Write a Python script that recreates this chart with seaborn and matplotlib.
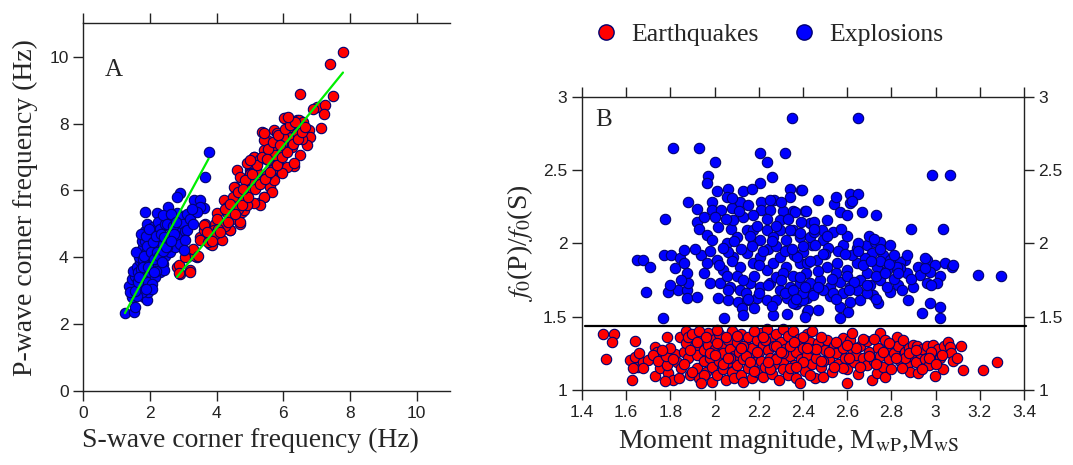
import numpy as np
import pandas as pd
import matplotlib
matplotlib.use("Agg")
import matplotlib.pyplot as plt
from matplotlib.lines import Line2D
from matplotlib.ticker import FuncFormatter
import seaborn as sns

# ---------------- Panel A data (corner frequencies, Hz) ----------------
exp_fs = [1.25, 1.51, 1.56, 1.46, 1.61, 1.81, 1.91, 1.36, 1.45, 1.55, 1.50, 1.65, 1.70, 1.75, 1.62, 1.70,
          1.75, 1.68, 1.80, 1.85, 1.90, 1.95, 2.00, 1.80, 1.75, 1.85, 1.90, 1.95, 2.05, 2.10, 2.00, 1.85,
          1.90, 1.85, 2.00, 2.05, 2.10, 2.15, 2.20, 2.25, 2.30, 2.15, 2.05, 2.10, 2.15, 2.20, 2.25, 2.30,
          2.35, 2.40, 2.45, 2.20, 2.25, 2.30, 2.35, 2.40, 2.45, 2.50, 2.55, 2.60, 2.55, 2.50, 2.45, 2.40,
          2.60, 2.65, 2.70, 2.75, 2.70, 2.80, 2.85, 2.90, 2.90, 2.81, 2.81, 2.95, 3.00, 3.05, 3.11, 3.10,
          3.20, 3.30, 3.31, 3.51, 3.61, 3.50, 3.40, 3.25, 3.66, 3.76, 1.95, 2.05, 1.65, 1.75, 1.45, 1.60,
          2.41, 2.51, 3.06, 3.01, 1.40, 1.58, 1.72, 1.88, 2.02, 2.18,
          1.55, 1.65, 1.72, 1.78, 1.82, 1.88, 1.92, 1.98, 2.02, 2.08, 2.12, 2.18, 2.22, 2.28, 2.32, 2.38,
          2.42, 2.48, 2.52, 2.58, 2.62, 2.68, 2.72, 2.78, 1.68, 1.78, 1.95, 2.12, 2.35, 2.62]
exp_fp = [2.34, 2.37, 2.52, 3.17, 3.02, 2.82, 2.72, 3.15, 3.35, 3.45, 3.60, 3.30, 3.10, 3.50, 3.70, 3.90,
          4.10, 4.00, 3.80, 3.60, 3.40, 3.25, 3.55, 4.30, 4.50, 4.50, 4.20, 4.00, 3.85, 3.70, 4.40, 4.80,
          5.00, 5.36, 4.70, 4.55, 4.30, 4.10, 3.95, 3.75, 3.55, 3.40, 3.20, 4.90, 4.75, 4.50, 4.30, 4.10,
          3.95, 3.80, 4.05, 5.31, 5.05, 4.85, 4.60, 4.40, 4.25, 4.55, 4.35, 4.15, 5.51, 5.20, 5.00, 5.25,
          4.90, 4.70, 4.50, 4.30, 5.10, 4.90, 4.60, 4.40, 5.91, 5.81, 5.31, 5.20, 5.00, 4.80, 4.82, 5.30,
          5.15, 5.00, 5.71, 5.71, 5.47, 5.50, 5.35, 5.45, 6.41, 7.16, 2.95, 3.05, 3.55, 2.95, 2.80, 2.85,
          3.61, 4.31, 4.51, 4.21, 2.95, 4.15, 4.70, 3.05, 4.05, 3.60,
          3.00, 3.25, 3.65, 3.95, 4.05, 4.65, 4.35, 4.85, 4.15, 4.45, 3.95, 4.65, 4.15, 4.05, 4.70, 4.20,
          4.60, 4.30, 5.00, 4.55, 5.30, 4.95, 4.70, 5.05, 3.40, 3.70, 3.70, 3.55, 3.85, 4.50]

eq_fs = [7.79, 7.39, 6.51, 7.49, 7.01, 7.26, 7.23, 7.14, 6.06, 6.41, 6.76, 6.81, 6.71, 6.51, 6.31, 5.91,
         5.66, 5.36, 5.51, 5.71, 5.41, 5.11, 5.01, 4.61, 4.91, 4.56, 4.51, 5.26, 5.41, 5.61, 4.21, 4.01,
         3.96, 3.66, 3.51, 3.61, 3.81, 3.21, 3.11, 2.81, 2.91, 3.21, 4.71, 4.41, 4.11, 4.76, 2.86, 2.88,
         3.21, 3.06, 3.41, 3.51, 3.61, 3.91, 3.86, 4.16, 4.41, 4.46, 4.71, 4.81, 4.71, 4.51, 4.71, 5.01,
         4.91, 5.11, 5.41, 5.41, 5.81, 6.01, 6.21, 6.41, 6.46, 6.11, 6.31, 5.96, 5.71, 5.66, 5.41, 5.31,
         5.11, 4.91, 5.55, 5.75, 5.95, 6.15, 5.85, 5.65, 5.25, 5.05, 4.85, 4.65, 4.35, 4.25, 4.05, 3.75,
         5.20, 5.50, 5.90, 6.25, 6.60, 6.00, 5.30, 4.95, 4.60, 4.30, 3.95, 3.35, 6.90, 6.55, 5.75, 5.00,
         3.30, 3.45, 3.70, 3.85, 4.00, 4.10, 4.25, 4.35, 4.50, 4.55, 4.65, 4.75, 4.85, 4.95, 5.05, 5.15,
         5.20, 5.30, 5.35, 5.45, 5.55, 5.60, 5.70, 5.80, 5.85, 5.95, 6.05, 6.10, 6.20, 6.30, 6.35, 6.45,
         6.55, 6.65, 4.40, 4.80, 5.00, 5.50, 5.90, 6.15]
eq_fp = [10.13, 9.78, 8.88, 8.83, 8.50, 8.55, 8.29, 7.86, 8.16, 8.11, 7.81, 7.61, 7.36, 7.06, 6.73, 6.71,
         6.41, 7.76, 7.51, 7.81, 7.21, 7.01, 6.61, 6.61, 6.21, 6.11, 5.71, 5.61, 5.81, 6.11, 5.71, 5.31,
         5.01, 5.01, 4.61, 4.81, 4.41, 4.11, 4.01, 3.71, 3.51, 3.61, 5.01, 4.81, 4.56, 5.36, 3.77, 3.52,
         3.57, 4.00, 4.01, 4.51, 4.96, 4.81, 4.36, 4.51, 4.81, 5.16, 5.06, 5.41, 5.71, 6.11, 6.41, 6.51,
         6.81, 7.01, 7.51, 7.71, 7.71, 8.16, 7.91, 7.71, 8.11, 6.71, 6.81, 6.51, 6.31, 5.96, 5.81, 5.56,
         5.61, 5.56, 6.90, 7.20, 7.40, 7.60, 6.95, 6.60, 6.25, 6.30, 5.95, 5.45, 5.30, 4.95, 4.85, 4.45,
         6.55, 6.45, 7.10, 7.30, 8.05, 7.60, 6.95, 6.00, 5.90, 5.50, 4.70, 4.05, 8.45, 7.55, 7.05, 6.50,
         4.25, 4.05, 4.75, 4.50, 5.15, 4.75, 5.45, 5.05, 5.80, 5.30, 5.95, 5.55, 6.30, 5.80, 6.50, 6.05,
         6.75, 6.20, 7.00, 6.35, 7.25, 6.55, 7.45, 6.75, 7.65, 7.00, 7.85, 7.15, 7.95, 7.40, 8.05, 7.55,
         7.75, 7.90, 5.60, 6.05, 6.90, 6.95, 7.35, 8.20]

# fitted lines (slope, intercept)
exp_fit = [1.84, 0.03]
eq_fit = [1.228, -0.04]

# ---------------- Panel B data ----------------
eqB_mw = [1.496, 1.545, 1.537, 1.509, 1.625, 1.64, 1.617, 1.64, 1.655, 1.677, 1.70, 1.632, 1.677, 1.73, 1.738, 1.73,
          1.753, 1.72, 1.745, 1.66,
          1.79, 1.783, 1.786, 1.843, 1.82, 1.813, 1.776, 1.78, 1.80, 1.83, 1.85, 1.86, 1.87, 1.87, 1.88, 1.89,
          1.84, 1.88, 1.76, 1.81,
          1.90, 1.91, 1.92, 1.92, 1.93, 1.94, 1.95, 1.95, 1.96, 1.97, 1.97, 1.98, 1.99, 1.99, 2.00, 2.00,
          2.01, 2.02, 2.02, 2.03, 2.04, 2.04, 2.05, 2.06, 2.06, 2.07, 2.08, 2.08, 2.09, 2.10, 2.10, 1.93,
          1.96, 2.01, 2.05, 2.09,
          2.11, 2.12, 2.12, 2.13, 2.13, 2.14, 2.15, 2.15, 2.16, 2.17, 2.17, 2.18, 2.19, 2.19, 2.20, 2.21,
          2.21, 2.22, 2.22, 2.23, 2.236, 2.24, 2.25, 2.25, 2.26, 2.27, 2.27, 2.28, 2.29, 2.29, 2.30, 2.308,
          2.31, 2.31, 2.32, 2.33, 2.33, 2.34, 2.35, 2.356, 2.36, 2.37, 2.37, 2.38, 2.39, 2.386, 2.40, 2.41,
          2.42, 2.42, 2.43, 2.439, 2.44, 2.45, 2.18, 2.28, 2.14, 2.23, 2.34, 2.40,
          2.454, 2.46, 2.47, 2.48, 2.492, 2.50, 2.51, 2.52, 2.53, 2.54, 2.55, 2.56, 2.57, 2.583, 2.59, 2.598,
          2.60, 2.613, 2.62, 2.62, 2.63, 2.64, 2.65, 2.66, 2.67, 2.688, 2.69, 2.70, 2.711, 2.72, 2.733, 2.74,
          2.748, 2.75, 2.76, 2.77, 2.77, 2.78, 2.79, 2.58, 2.48,
          2.80, 2.81, 2.824, 2.83, 2.84, 2.854, 2.86, 2.87, 2.88, 2.884, 2.89, 2.90, 2.91, 2.915, 2.92, 2.93,
          2.94, 2.95, 2.96, 2.97, 2.99, 2.997, 3.00, 3.01, 3.02, 3.035, 3.04, 3.058, 3.065, 3.07, 3.08, 3.095,
          3.113, 3.125, 3.216, 3.28, 2.98, 2.86,
          1.86, 1.89, 1.92, 1.95, 1.98, 2.01, 2.04, 2.07, 2.10, 2.13, 2.16, 2.19, 2.22, 2.25, 2.28, 2.31,
          2.34, 2.37, 2.40, 2.43, 2.46, 2.49, 2.52, 2.55, 2.58, 2.61, 2.64, 2.67, 2.70, 2.73, 2.76, 2.79,
          2.82, 2.85, 2.88, 2.91, 2.94, 2.97, 3.00, 3.03,
          1.90, 1.94, 2.00, 2.06, 2.12, 2.18, 2.24, 2.30, 2.36, 2.42, 2.48, 2.54, 2.60, 2.66, 2.72]
eqB_ratio = [1.38, 1.38, 1.325, 1.21, 1.068, 1.334, 1.205, 1.227, 1.16, 1.193, 1.205, 1.148, 1.148, 1.296, 1.262, 1.096,
             1.148, 1.24, 1.20, 1.25,
             1.114, 1.171, 1.364, 1.364, 1.246, 1.068, 1.06, 1.23, 1.29, 1.19, 1.15, 1.26, 1.40, 1.32, 1.22, 1.10,
             1.08, 1.36, 1.27, 1.21,
             1.38, 1.30, 1.24, 1.15, 1.08, 1.34, 1.27, 1.20, 1.12, 1.39, 1.31, 1.22, 1.057, 1.16, 1.35, 1.28,
             1.10, 1.20, 1.38, 1.31, 1.25, 1.14, 1.07, 1.34, 1.19, 1.28, 1.40, 1.12, 1.23, 1.33, 1.17, 1.40,
             1.36, 1.41, 1.36, 1.08,
             1.26, 1.38, 1.10, 1.057, 1.21, 1.31, 1.15, 1.36, 1.24, 1.29, 1.08, 1.19, 1.34, 1.12, 1.26, 1.39,
             1.20, 1.31, 1.09, 1.16, 1.413, 1.27, 1.35, 1.22, 1.11, 1.30, 1.18, 1.38, 1.24, 1.07, 1.33, 1.413,
             1.20, 1.14, 1.28, 1.37, 1.10, 1.23, 1.31, 1.403, 1.17, 1.26, 1.08, 1.35, 1.21, 1.05, 1.29, 1.13,
             1.38, 1.24, 1.33, 1.403, 1.18, 1.28, 1.40, 1.30, 1.23, 1.34, 1.15, 1.19,
             1.08, 1.22, 1.32, 1.16, 1.091, 1.27, 1.34, 1.21, 1.12, 1.30, 1.25, 1.18, 1.33, 1.353, 1.22, 1.05,
             1.14, 1.341, 1.387, 1.28, 1.19, 1.24, 1.11, 1.30, 1.22, 1.334, 1.17, 1.26, 1.068, 1.20, 1.114, 1.29,
             1.387, 1.23, 1.16, 1.341, 1.091, 1.27, 1.21, 1.29, 1.36,
             1.14, 1.25, 1.364, 1.30, 1.20, 1.341, 1.26, 1.17, 1.29, 1.121, 1.23, 1.31, 1.19, 1.302, 1.114, 1.25,
             1.28, 1.21, 1.30, 1.17, 1.307, 1.096, 1.24, 1.28, 1.216, 1.141, 1.30, 1.33, 1.296, 1.25, 1.20, 1.216,
             1.302, 1.137, 1.137, 1.193, 1.26, 1.22,
             1.18, 1.27, 1.33, 1.10, 1.25, 1.32, 1.18, 1.22, 1.37, 1.30, 1.19, 1.26, 1.36, 1.14, 1.21, 1.25,
             1.30, 1.16, 1.36, 1.10, 1.28, 1.20, 1.26, 1.33, 1.15, 1.22, 1.29, 1.35, 1.23, 1.18, 1.26, 1.32,
             1.22, 1.15, 1.25, 1.27, 1.14, 1.22, 1.18, 1.24,
             1.12, 1.05, 1.24, 1.22, 1.29, 1.13, 1.19, 1.26, 1.33, 1.29, 1.20, 1.16, 1.31, 1.16, 1.35]

exB_mw = [1.647, 1.677, 1.707, 1.69, 1.765, 1.775, 1.77, 1.805, 1.845, 1.86, 1.82, 1.875, 1.86, 1.79, 1.835, 1.875,
          1.875, 1.92, 1.80, 1.81, 1.93, 1.88, 1.92, 1.92, 1.93, 1.965, 1.99, 1.94, 1.965, 1.95, 1.98, 2.00,
          1.97, 1.965, 2.01, 1.99, 1.99, 2.03, 2.08, 2.06, 2.055, 2.015, 2.075, 2.01, 2.04, 2.025, 2.055, 2.017,
          2.062, 2.043,
          2.205, 2.32, 2.235, 2.26, 2.205, 2.13, 2.17, 2.34, 2.39, 2.34, 2.115, 2.21, 2.21, 2.085, 2.13, 2.175,
          2.25, 2.31, 2.355, 2.41, 2.235, 2.295, 2.145, 2.175, 2.235, 2.295, 2.355, 2.10, 2.175, 2.055, 2.205, 2.265,
          2.325, 2.385, 2.085, 2.115, 2.145, 2.175, 2.205, 2.235, 2.265, 2.295, 2.325, 2.355, 2.385, 2.415, 2.07, 2.115,
          2.16, 2.205, 2.25, 2.295, 2.34, 2.385, 2.107, 2.145, 2.19, 2.235, 2.28, 2.326, 2.37, 2.417, 2.123, 2.13,
          2.266, 2.326, 2.417, 2.35, 2.65,
          2.12, 2.16, 2.24, 2.28, 2.32, 2.18, 2.28, 2.10, 2.20, 2.32, 2.14, 2.26, 2.18, 2.06, 2.40, 2.44,
          2.38, 2.36, 2.42,
          2.982, 3.065, 2.394, 2.613, 2.613, 2.54, 2.567, 2.598, 2.666, 2.73, 2.364, 2.414, 2.51, 2.889, 3.032, 2.43,
          2.485, 2.537, 2.34, 2.386, 2.43, 2.49, 2.40, 2.455, 2.515, 2.583, 2.643, 2.69, 2.726, 2.748, 2.794, 2.711,
          2.763, 2.794, 2.86, 2.84, 2.92, 2.96, 2.997, 3.042, 3.073, 3.193, 3.296, 2.93, 2.975, 3.02, 2.96, 3.005,
          2.876, 2.975, 3.02, 2.94, 3.02, 2.74, 2.718, 2.794, 2.832, 2.87, 2.84, 2.567, 2.605, 2.567, 2.613, 2.658,
          2.424, 2.47, 2.41, 2.522, 2.447, 2.40, 2.356,
          2.372, 2.416, 2.462, 2.507, 2.552, 2.597, 2.643, 2.688, 2.733, 2.778, 2.824,
          2.386, 2.432, 2.477, 2.522, 2.567, 2.613, 2.658, 2.703, 2.748,
          2.356, 2.40, 2.447, 2.492, 2.537, 2.582, 2.643, 2.688,
          2.50, 2.56, 2.62, 2.68, 2.75, 2.81, 2.78, 2.73, 2.90, 2.95, 2.60, 2.47,
          2.27, 2.08, 2.15, 2.05, 2.47, 2.45, 2.55, 2.70, 2.60, 2.65, 2.65, 2.62,
          1.98, 2.02, 2.06, 2.09, 2.13, 2.17, 2.20, 2.24, 2.28, 2.31, 2.35, 2.39, 2.43, 2.47, 2.51, 2.55,
          2.59, 2.63, 2.67, 2.71, 2.75, 2.79, 2.83, 2.87,
          2.00, 2.04, 2.08, 2.11, 2.15, 2.19, 2.22, 2.26, 2.30, 2.33, 2.37, 2.41, 2.45, 2.49, 2.53, 2.57,
          2.61, 2.65, 2.69, 2.73, 2.77, 2.81, 2.85, 2.89,
          1.88, 1.91, 1.95, 1.85, 2.25, 2.30, 2.45, 2.55, 2.72, 2.95, 3.08, 2.98]
exB_ratio = [1.887, 1.887, 1.837, 1.67, 1.49, 2.17, 1.92, 1.92, 1.90, 1.955, 1.83, 1.80, 1.865, 1.67, 1.68, 1.68,
             1.625, 1.635, 1.715, 2.65, 2.65, 2.28, 2.235, 2.15, 2.10, 2.06, 2.025, 1.92, 1.865, 1.80, 1.73, 2.555,
             2.46, 2.415, 2.36, 2.285, 2.23, 2.23, 2.24, 2.375, 2.32, 2.115, 2.10, 1.887, 1.82, 1.73, 1.775, 1.625,
             1.615, 1.49,
             2.615, 2.615, 2.555, 2.455, 2.415, 2.36, 2.375, 2.375, 2.365, 2.32, 2.28, 2.285, 2.23, 2.16, 2.18, 2.195,
             2.23, 2.22, 2.22, 2.22, 2.17, 2.16, 2.09, 2.09, 2.09, 2.09, 2.09, 2.045, 2.00, 2.00, 2.025, 2.045,
             2.025, 2.045, 1.91, 1.84, 1.933, 1.865, 1.91, 1.82, 1.865, 1.91, 1.84, 1.775, 1.865, 1.80, 1.705, 1.685,
             1.73, 1.705, 1.73, 1.685, 1.705, 1.73, 1.60, 1.615, 1.625, 1.615, 1.615, 1.625, 1.59, 1.625, 1.557, 1.512,
             1.512, 1.517, 1.535, 2.86, 2.86,
             1.96, 2.05, 1.96, 1.98, 1.95, 1.78, 1.77, 1.78, 1.66, 1.66, 1.66, 1.57, 1.56, 1.94, 1.94, 1.99,
             1.61, 1.92, 1.70,
             2.47, 2.47, 2.365, 2.34, 2.275, 2.27, 2.217, 2.195, 2.217, 2.195, 2.217, 2.223, 2.16, 2.10, 2.10, 2.137,
             2.09, 2.08, 2.09, 2.07, 2.047, 2.025, 1.98, 1.99, 1.967, 1.99, 1.967, 1.99, 2.012, 2.012, 1.99, 1.933,
             1.922, 1.887, 1.887, 1.876, 1.842, 1.887, 1.853, 1.865, 1.842, 1.785, 1.778, 1.785, 1.807, 1.78, 1.73, 1.73,
             1.614, 1.592, 1.569, 1.523, 1.489, 1.592, 1.648, 1.67, 1.716, 1.796, 1.83, 1.569, 1.535, 1.49, 1.603, 1.614,
             1.546, 1.546, 1.50, 1.64, 1.66, 1.614, 1.592,
             1.91, 1.865, 1.887, 1.842, 1.865, 1.82, 1.865, 1.796, 1.842, 1.82, 1.842,
             1.773, 1.728, 1.751, 1.705, 1.74, 1.705, 1.751, 1.716, 1.751,
             1.683, 1.66, 1.648, 1.683, 1.66, 1.66, 1.683, 1.66,
             1.93, 1.95, 1.92, 1.90, 1.88, 1.76, 1.70, 1.78, 1.70, 1.83, 1.78, 1.81,
             2.30, 2.31, 2.26, 2.17, 2.30, 2.15, 2.32, 2.05, 2.05, 2.00, 2.34, 2.29,
             1.95, 1.85, 1.68, 2.02, 1.75, 1.98, 1.85, 1.72, 2.12, 1.80, 1.96, 2.15, 1.88, 1.70, 2.05, 1.80,
             1.93, 1.74, 1.85, 1.88, 1.96, 1.86, 1.80, 1.92,
             2.18, 1.97, 1.88, 2.22, 1.62, 2.12, 1.95, 2.02, 1.75, 2.17, 1.62, 1.70, 2.08, 1.93, 1.76, 2.10,
             1.68, 1.95, 1.72, 1.62, 1.80, 1.92, 1.68, 1.76,
             1.73, 1.96, 2.18, 1.75, 2.30, 2.28, 2.10, 1.62, 2.03, 1.90, 1.85, 1.72]

threshold = 1.437
xticksA = [0, 2, 4, 6, 8, 10]
yticksA = [0, 2, 4, 6, 8, 10]
xticksB = [1.4, 1.6, 1.8, 2.0, 2.2, 2.4, 2.6, 2.8, 3.0, 3.2, 3.4]
yticksB = [1, 1.5, 2, 2.5, 3]

RED = "#ff0000"
BLUE = "#0000ff"
EDGE = "#000070"
GREEN = "#00ee00"
INK = "#222222"

sns.set_theme(style="ticks")
plt.rcParams["font.family"] = ["Liberation Sans", "DejaVu Sans"]
plt.rcParams["mathtext.fontset"] = "stix"
SERIF = ["Liberation Serif", "DejaVu Serif"]
LABEL_SIZE = 20

fig = plt.figure(figsize=(10.73, 4.65), dpi=100)
axA = fig.add_axes([0.0776, 0.1591, 0.3418, 0.7909])
axB = fig.add_axes([0.5424, 0.1613, 0.4119, 0.6301])

dfA_exp = pd.DataFrame({"fs": exp_fs, "fp": exp_fp})
dfA_eq = pd.DataFrame({"fs": eq_fs, "fp": eq_fp})
dfB_exp = pd.DataFrame({"mw": exB_mw, "r": exB_ratio})
dfB_eq = pd.DataFrame({"mw": eqB_mw, "r": eqB_ratio})

msize = 56
sns.scatterplot(data=dfA_eq, x="fs", y="fp", ax=axA, color=RED, edgecolor=EDGE, linewidth=0.8, s=msize, zorder=3)
sns.scatterplot(data=dfA_exp, x="fs", y="fp", ax=axA, color=BLUE, edgecolor=EDGE, linewidth=0.8, s=msize, zorder=3)

for d, fit in ((dfA_exp, exp_fit), (dfA_eq, eq_fit)):
    xs = np.array([d["fs"].min(), d["fs"].max()])
    axA.plot(xs, fit[0] * xs + fit[1], color=GREEN, lw=1.6, zorder=4)

axA.set_xlim(0, 11)
axA.set_ylim(0, 11)
axA.set_xticks(xticksA)
axA.set_yticks(yticksA)
axA.tick_params(direction="out", length=7, width=1, labelsize=12.5, colors=INK, top=True, labeltop=False)
for s in ("left", "bottom", "top"):
    axA.spines[s].set_color(INK)
    axA.spines[s].set_linewidth(1.0)
axA.spines["right"].set_visible(False)
axA.set_xlabel("S-wave corner frequency (Hz)", family=SERIF, fontsize=LABEL_SIZE, labelpad=6)
axA.xaxis.set_label_coords(0.455, -0.1)
axA.set_ylabel("P-wave corner frequency (Hz)", family=SERIF, fontsize=LABEL_SIZE, labelpad=8)
axA.text(0.9, 9.6, "A", family=SERIF, fontsize=18, va="center", ha="center")

sns.scatterplot(data=dfB_exp, x="mw", y="r", ax=axB, color=BLUE, edgecolor=EDGE, linewidth=0.8, s=msize, zorder=3)
sns.scatterplot(data=dfB_eq, x="mw", y="r", ax=axB, color=RED, edgecolor=EDGE, linewidth=0.8, s=msize, zorder=3)
axB.plot([1.415, 3.41], [threshold, threshold], color="black", lw=1.6, zorder=5, clip_on=False)

axB.set_xlim(1.4, 3.4)
axB.set_ylim(1, 3)
axB.set_xticks(xticksB)
axB.set_yticks(yticksB)
fmt = FuncFormatter(lambda v, p: f"{v:g}")
axB.xaxis.set_major_formatter(fmt)
axB.yaxis.set_major_formatter(fmt)
axB.tick_params(direction="out", length=7, width=1, labelsize=12.5, colors=INK,
                top=True, right=True, labelright=True, labeltop=False)
for s in axB.spines.values():
    s.set_color(INK)
    s.set_linewidth(1.0)
axB.set_xlabel(r"Moment magnitude, M$_{\mathrm{wP}}$,M$_{\mathrm{wS}}$", family=SERIF, fontsize=LABEL_SIZE, labelpad=6)
axB.xaxis.set_label_coords(0.468, -0.125)
axB.set_ylabel(r"$f_0$(P)/$f_0$(S)", family=SERIF, fontsize=LABEL_SIZE, labelpad=6)
axB.text(1.50, 2.84, "B", family=SERIF, fontsize=18, va="center", ha="center")

handles = [Line2D([], [], marker="o", ls="", markerfacecolor=RED, markeredgecolor=EDGE, markersize=11, label="Earthquakes"),
           Line2D([], [], marker="o", ls="", markerfacecolor=BLUE, markeredgecolor=EDGE, markersize=11, label="Explosions")]
fig.legend(handles=handles, loc="center", bbox_to_anchor=(0.716, 0.925), ncol=2, frameon=False,
           prop={"family": SERIF, "size": 18.5}, columnspacing=1.3, handletextpad=0.45, handlelength=1.0)

fig.savefig("out.png", dpi=100)
